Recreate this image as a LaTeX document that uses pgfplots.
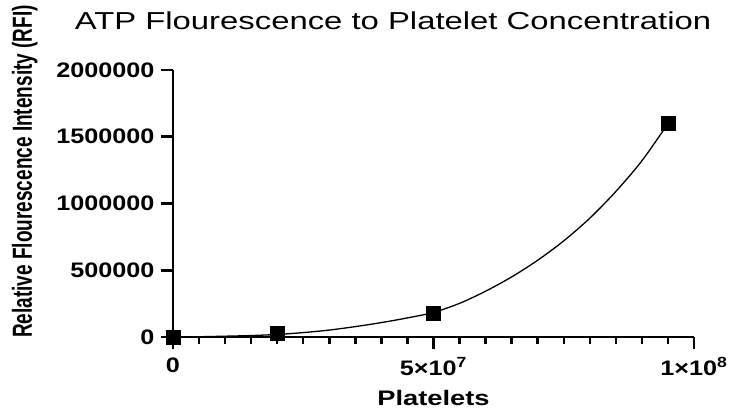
\documentclass[border=0pt]{standalone}
\usepackage{pgfplots}
\pgfplotsset{compat=1.18}
\usepackage{fontspec}
\setmainfont{Liberation Sans}
\newfontfamily\titlefont[FakeStretch=1.34]{Liberation Sans}
\newfontfamily\labfont[FakeStretch=1.3]{Liberation Sans}
\newfontfamily\tickfont[FakeStretch=1.2]{Liberation Sans}
\newfontfamily\ylabfont{Liberation Sans}

\begin{document}
\begin{tikzpicture}
\useasboundingbox (-173bp,-72bp) rectangle (557bp,337bp);
\begin{axis}[
  at={(0,0)}, anchor=south west,
  scale only axis, width=521bp, height=267bp,
  xmin=0, xmax=1e8, ymin=0, ymax=2e6,
  axis x line*=bottom, axis y line*=left,
  axis line style={line width=2.8bp},
  xtick={0,5e7,1e8},
  xticklabels={0, 5×10\textsuperscript{7}, 1×10\textsuperscript{8}},
  minor x tick num=9,
  ytick={0,500000,1000000,1500000,2000000},
  yticklabels={0,500000,1000000,1500000,2000000},
  scaled x ticks=false, scaled y ticks=false,
  tick align=outside,
  major tick length=12bp, minor tick length=6.5bp,
  every tick/.style={black, line width=2.5bp},
  ticklabel style={font=\tickfont\bfseries\fontsize{21bp}{24bp}\selectfont},
  xticklabel style={yshift=-5bp},
  yticklabel style={xshift=-3bp},
  clip=false,
]
\addplot[black, line width=1.3bp, smooth, no marks] coordinates {
(0,0) (5e6,2000) (1e7,6000) (1.5e7,11000) (2e7,19000) (2.5e7,33000)
(3e7,52000) (3.5e7,78000) (4e7,108000) (4.5e7,143000) (5e7,184000)
(5.5e7,252000) (6e7,343000) (6.5e7,450000) (7e7,575000) (7.5e7,720000)
(8e7,890000) (8.5e7,1090000) (9e7,1320000) (9.5e7,1598000)
};
\addplot[only marks, mark=square*, mark size=7bp, black] coordinates {
(0,0) (2e7,30000) (5e7,182000) (9.5e7,1600000)
};
\end{axis}
\node[anchor=base, font=\titlefont\fontsize{24.5bp}{28bp}\selectfont] at (220bp,307.7bp) {ATP Flourescence to Platelet Concentration};
\node[anchor=base, font=\labfont\bfseries\fontsize{21bp}{24bp}\selectfont] at (260.5bp,-68bp) {Platelets};
\node[anchor=base, rotate=90, font=\ylabfont\bfseries\fontsize{19bp}{22bp}\selectfont] at (-141bp,165.5bp) {\scalebox{1}[1.45]{Relative Flourescence Intensity (RFI)}};
\end{tikzpicture}
\end{document}
